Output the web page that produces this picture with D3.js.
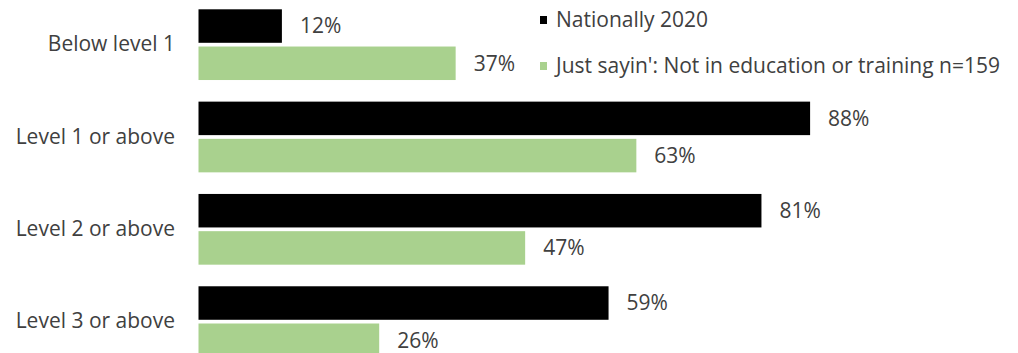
<!DOCTYPE html>
<html>
<head>
<meta charset="utf-8">
<script src="https://cdn.jsdelivr.net/npm/d3@7"></script>
<style>
  body { margin: 0; background: #fff; }
  text { font-family: "Open Sans", "Liberation Sans", Arial, sans-serif; fill: #404040; }
</style>
</head>
<body>
<svg id="chart" width="1018" height="353"></svg>
<script>
// Chart data
const categories = ["Below level 1", "Level 1 or above", "Level 2 or above", "Level 3 or above"];
const seriesNames = ["Nationally 2020", "Just sayin': Not in education or training n=159"];
const nationally = [12, 88, 81, 59];
const justSayin = [37, 63, 47, 26];
const seriesColors = ["#000000", "#a9d18e"];

const svg = d3.select("#chart");
const fontSize = 21;

// x scale: percent to pixels
const x = d3.scaleLinear().domain([0, 100]).range([198.5, 893.5]);

// y scale for categories, inner scale for the two series
const y = d3.scaleBand()
    .domain(categories)
    .range([9.3, 357])
    .paddingInner(0.234)
    .paddingOuter(0);

const ySub = d3.scaleBand()
    .domain([0, 1])
    .range([0, y.bandwidth()])
    .paddingInner(0.1);

const rows = categories.map((c, i) => ({ cat: c, values: [nationally[i], justSayin[i]] }));

const groups = svg.append("g")
    .selectAll("g")
    .data(rows)
    .enter().append("g")
    .attr("transform", d => "translate(0," + y(d.cat) + ")");

groups.selectAll("rect")
    .data(d => d.values.map((v, s) => ({ v: v, s: s })))
    .enter().append("rect")
    .attr("x", x(0))
    .attr("y", d => ySub(d.s))
    .attr("width", d => x(d.v) - x(0))
    .attr("height", ySub.bandwidth())
    .attr("fill", d => seriesColors[d.s]);

//Value labels
groups.selectAll("text.val")
    .data(d => d.values.map((v, s) => ({ v: v, s: s })))
    .enter().append("text")
    .attr("class", "val")
    .attr("x", d => x(d.v) + 18)
    .attr("y", d => ySub(d.s) + ySub.bandwidth() / 2)
    .attr("dy", "0.35em")
    .attr("font-size", fontSize)
    .text(d => d.v + "%");

//Category axis labels
const yAxis = d3.axisLeft(y).tickSize(0).tickPadding(0);
const axisG = svg.append("g")
    .attr("transform", "translate(175,0)")
    .call(yAxis);
axisG.select(".domain").remove();
axisG.selectAll("text")
    .attr("font-size", fontSize)
    .attr("font-family", null)
    .attr("fill", "#404040");

//Legend
const legend = svg.append("g")
    .selectAll("g")
    .data(seriesNames)
    .enter().append("g")
    .attr("transform", (d, i) => "translate(540," + (20 + i * 46) + ")");

legend.append("rect")
    .attr("x", 0)
    .attr("y", -4)
    .attr("width", 7)
    .attr("height", 8)
    .attr("fill", (d, i) => seriesColors[i]);

legend.append("text")
    .attr("x", 16)
    .attr("y", 0)
    .attr("dy", "0.35em")
    .attr("font-size", fontSize)
    .text(d => d);
</script>
</body>
</html>
